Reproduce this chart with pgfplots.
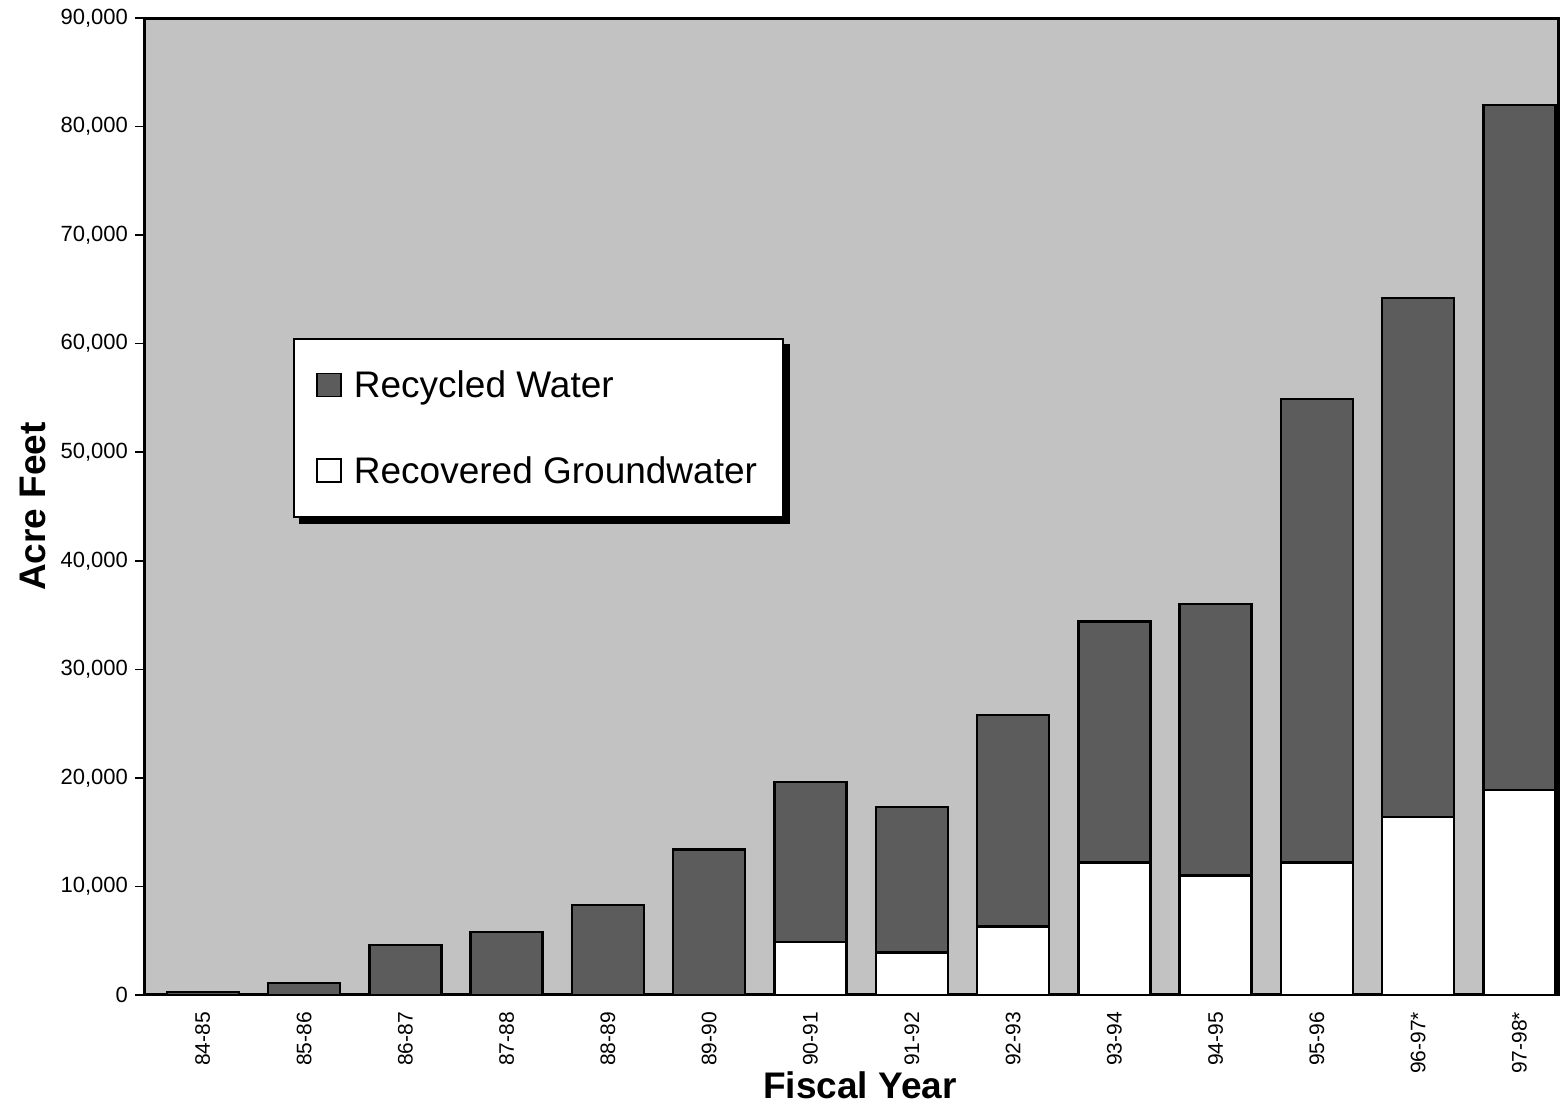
\documentclass[border=0pt]{standalone}
\usepackage{pgfplots}
\pgfplotsset{compat=1.18}
\usepackage{fontspec}
\setmainfont{Liberation Sans}
\definecolor{bg}{gray}{0.76}
\definecolor{rec}{gray}{0.36}
\begin{document}
\begin{tikzpicture}
\useasboundingbox (0,0) rectangle (780pt,552pt);
\begin{axis}[
  at={(72.5pt,54.5pt)}, anchor=south west,
  scale only axis, width=706.5pt, height=488.5pt,
  ybar stacked, bar width=36pt,
  xmin=-0.57, xmax=13.38, ymin=0, ymax=90000,
  xtick={0,...,13},
  xticklabels={84-85,85-86,86-87,87-88,88-89,89-90,90-91,91-92,92-93,93-94,94-95,95-96,96-97*,97-98*},
  xticklabel style={rotate=90, anchor=east, font=\fontsize{10.5}{12}\selectfont},
  xtick style={draw=none},
  ytick={0,10000,...,90000},
  scaled y ticks=false,
  yticklabel style={font=\fontsize{11}{13}\selectfont,
    /pgf/number format/.cd, 1000 sep={,}, assume math mode=true},
  ytick style={line width=0.8pt, black},
  tick align=outside, major tick length=5pt,
  axis line style={line width=1.5pt},
  axis background/.style={fill=bg},
  ylabel={Acre Feet}, xlabel={Fiscal Year},
  ylabel style={font=\bfseries\fontsize{18.5}{20}\selectfont, at={(axis description cs:-0.079,0.5)}, anchor=center, rotate=0},
  xlabel style={font=\bfseries\fontsize{18.5}{20}\selectfont, at={(axis description cs:0.506,-0.092)}, anchor=center},
  legend style={name=leg, at={(axis description cs:0.105,0.672)}, anchor=north west,
    draw=black, line width=1pt, fill=white,
    font=\fontsize{18.5}{20}\selectfont, inner xsep=11pt, inner ysep=13.5pt,
    row sep=24pt, cells={anchor=west},
    /tikz/every odd column/.append style={column sep=4pt}},
  legend image code/.code={\draw[#1, line width=0.8pt] (0pt,-5.5pt) rectangle (12pt,6pt);},
]
\addplot[fill=white, draw=black, line width=1.2pt, forget plot] coordinates {
(0,0) (1,0) (2,0) (3,0) (4,0) (5,0) (6,4900) (7,3900) (8,6300) (9,12200) (10,11000) (11,12200) (12,16400) (13,18900)};
\addplot[fill=rec, draw=black, line width=1.2pt, forget plot] coordinates {
(0,300) (1,1100) (2,4600) (3,5800) (4,8300) (5,13400) (6,14700) (7,13400) (8,19500) (9,22200) (10,25000) (11,42700) (12,47800) (13,63100)};
\addlegendimage{fill=rec, draw=black}
\addlegendentry{Recycled Water}
\addlegendimage{fill=white, draw=black}
\addlegendentry{Recovered Groundwater}
\end{axis}
\fill[black] ([xshift=3pt]leg.south west) rectangle ([xshift=3pt,yshift=-3pt]leg.south east);
\fill[black] ([yshift=-3pt]leg.north east) rectangle ([xshift=3pt,yshift=-3pt]leg.south east);
\end{tikzpicture}
\end{document}
